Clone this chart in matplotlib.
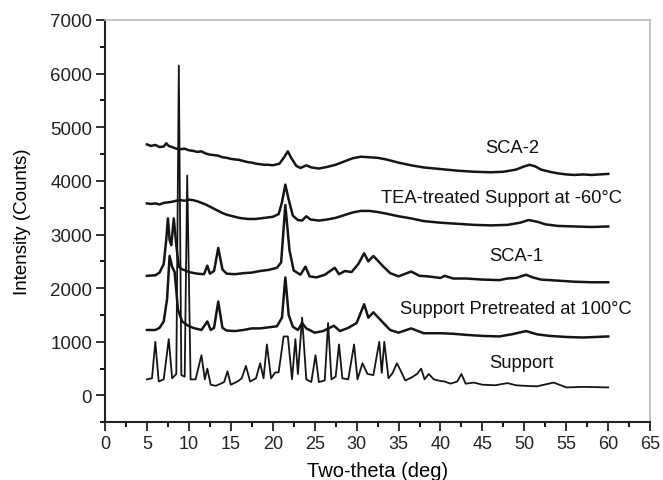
import matplotlib
matplotlib.use("Agg")
import matplotlib.pyplot as plt
from matplotlib.ticker import MultipleLocator

plt.rcParams['font.family'] = ['Liberation Sans', 'DejaVu Sans']

sca2_x = [5, 5.5, 6, 6.5, 7, 7.3, 7.6, 8, 8.5, 9, 9.5, 10, 10.5, 11, 11.5, 12, 12.5, 13, 13.5, 14, 14.5, 15, 15.5, 16, 16.5, 17, 17.5, 18, 18.5, 19, 19.5, 20, 20.8, 21.4, 21.8, 22.2, 22.8, 23.3, 24, 24.6, 25.5, 26.5, 27.5, 28.5, 29.5, 30.5, 31.5, 32.5, 33.5, 35, 36.5, 38, 40, 42, 44, 46, 47.5, 49, 50, 50.6, 51.3, 52, 53, 54, 55, 56, 57, 58, 59, 60]
sca2_y = [4680, 4650, 4670, 4630, 4640, 4700, 4650, 4630, 4600, 4590, 4600, 4570, 4560, 4540, 4550, 4510, 4490, 4480, 4470, 4440, 4430, 4410, 4400, 4390, 4370, 4350, 4340, 4320, 4310, 4300, 4300, 4290, 4320, 4450, 4550, 4430, 4280, 4240, 4290, 4250, 4230, 4260, 4300, 4360, 4420, 4450, 4440, 4430, 4400, 4340, 4290, 4250, 4220, 4190, 4170, 4160, 4170, 4210, 4270, 4300, 4270, 4210, 4170, 4140, 4120, 4110, 4120, 4110, 4120, 4130]

tea_x = [5, 5.5, 6, 6.5, 7, 7.5, 8, 8.5, 9, 9.5, 10, 10.5, 11, 11.5, 12, 12.5, 13, 13.5, 14, 14.5, 15, 16, 17, 18, 19, 20, 20.7, 21.1, 21.5, 21.9, 22.4, 23, 23.5, 24, 24.5, 25.5, 26.5, 27.5, 28.5, 29.5, 30.5, 31.5, 32.5, 33.5, 35, 36.5, 38, 40, 42, 44, 46, 48, 49.5, 50.5, 51.5, 52.5, 54, 56, 58, 60]
tea_y = [3580, 3570, 3580, 3560, 3590, 3600, 3610, 3630, 3640, 3630, 3650, 3640, 3620, 3590, 3560, 3520, 3480, 3440, 3400, 3370, 3350, 3310, 3290, 3290, 3310, 3330, 3380, 3600, 3930, 3650, 3350, 3270, 3260, 3340, 3280, 3260, 3280, 3310, 3360, 3410, 3440, 3440, 3420, 3390, 3340, 3300, 3250, 3220, 3200, 3180, 3170, 3180, 3220, 3270, 3240, 3190, 3160, 3150, 3140, 3150]

sca1_x = [5, 6, 6.5, 7, 7.3, 7.5, 7.7, 7.9, 8.2, 8.5, 8.8, 9.2, 9.6, 10, 11, 11.8, 12.2, 12.5, 13, 13.5, 14, 14.5, 15.5, 16.5, 17.5, 18.5, 19.5, 20.5, 21, 21.5, 22, 22.5, 23.3, 23.9, 24.4, 25.2, 26.2, 27.4, 27.9, 28.6, 29.4, 30.2, 30.9, 31.4, 32, 32.6, 33.2, 34, 35, 36.5, 37.5, 38.5, 40, 40.5, 41.5, 43, 45, 47, 48, 49, 50.2, 51, 52, 54, 56, 58, 60]
sca1_y = [2230, 2240, 2290, 2450, 2900, 3300, 2900, 2800, 3300, 2800, 2400, 2350, 2330, 2300, 2270, 2260, 2420, 2270, 2320, 2750, 2350, 2270, 2260, 2280, 2290, 2320, 2340, 2380, 2480, 3550, 2700, 2330, 2250, 2400, 2220, 2200, 2250, 2380, 2260, 2320, 2300, 2450, 2650, 2500, 2600, 2500, 2400, 2280, 2220, 2310, 2230, 2220, 2190, 2230, 2180, 2180, 2160, 2150, 2180, 2190, 2250, 2200, 2160, 2140, 2120, 2110, 2110]

pre_x = [5, 6, 6.5, 7, 7.4, 7.7, 8.0, 8.3, 8.7, 9.2, 9.8, 10.5, 11.5, 12.2, 12.6, 13, 13.5, 14, 14.5, 15.5, 16.5, 17.5, 18.5, 19.5, 20.5, 21.1, 21.5, 21.9, 22.4, 23, 23.5, 24, 25, 26, 27.3, 28, 29, 30, 30.9, 31.4, 32, 32.6, 33.2, 34, 35, 36.5, 38, 40, 41.5, 43, 45, 47, 48.5, 50.2, 51.5, 53, 55, 57, 60]
pre_y = [1220, 1220, 1260, 1380, 1800, 2600, 2400, 2300, 1600, 1380, 1310, 1260, 1220, 1380, 1220, 1260, 1750, 1260, 1210, 1200, 1220, 1250, 1250, 1270, 1290, 1450, 2200, 1500, 1280, 1220, 1350, 1250, 1170, 1200, 1300, 1200, 1260, 1350, 1700, 1450, 1550, 1450, 1350, 1220, 1170, 1250, 1160, 1160, 1150, 1130, 1110, 1100, 1140, 1200, 1140, 1110, 1090, 1080, 1100]

sup_x = [5, 5.6, 6.0, 6.4, 7.0, 7.6, 8.0, 8.5, 8.8, 9.1, 9.5, 9.8, 10.2, 10.8, 11.5, 11.9, 12.2, 12.6, 13.2, 13.8, 14.2, 14.6, 15.0, 15.8, 16.3, 16.8, 17.3, 18.0, 18.5, 18.9, 19.3, 19.8, 20.3, 20.7, 21.3, 21.8, 22.3, 22.7, 23.0, 23.5, 24.0, 24.6, 25.1, 25.5, 26.2, 26.6, 27.0, 27.5, 27.9, 28.3, 29.0, 29.7, 30.1, 30.7, 31.3, 32.0, 32.7, 33.0, 33.3, 33.8, 34.3, 34.8, 35.2, 35.8, 36.5, 37.2, 37.7, 38.1, 38.6, 39.2, 40.0, 40.5, 41.2, 42.0, 42.5, 43.0, 44.0, 45.0, 46.5, 48.0, 49.0, 50.0, 51.5, 53.5, 55.0, 57.0, 60.0]
sup_y = [300, 320, 1000, 260, 300, 1050, 320, 400, 6150, 380, 350, 4100, 300, 300, 750, 300, 500, 200, 180, 220, 250, 450, 200, 260, 320, 550, 260, 320, 600, 320, 950, 320, 430, 430, 1100, 1100, 300, 1050, 400, 1450, 300, 250, 750, 250, 280, 1350, 300, 350, 950, 320, 300, 950, 300, 600, 400, 380, 1000, 420, 1000, 320, 420, 600, 480, 280, 330, 400, 500, 300, 400, 300, 270, 260, 220, 260, 400, 220, 240, 200, 190, 230, 190, 180, 170, 240, 150, 160, 150]

tick_x = list(range(0, 70, 5))
tick_y = list(range(0, 8000, 1000))

labels = ["SCA-2", "TEA-treated Support at -60°C", "SCA-1", "Support Pretreated at 100°C", "Support"]
label_x = [48.5, 47.3, 49.0, 49.0, 49.6]
label_y = [4620, 3690, 2600, 1615, 615]

fig = plt.figure(figsize=(6.63, 4.81), dpi=100)
ax = fig.add_axes([0.1584, 0.12, 0.8222, 0.8365])

col = '#151515'
for xs, ys in [(sca2_x, sca2_y), (tea_x, tea_y), (sca1_x, sca1_y), (pre_x, pre_y)]:
    ax.plot(xs, ys, color=col, lw=1.8, solid_joinstyle='round')
ax.plot(sup_x, sup_y, color=col, lw=1.3, solid_joinstyle='round')

for t, tx, ty in zip(labels, label_x, label_y):
    ax.text(tx, ty, t, ha='center', va='center', fontsize=13.2, color='#111111')

ax.set_xlim(0, 65)
ax.set_ylim(-500, 7000)
ax.set_xticks(tick_x)
ax.set_yticks(tick_y)
ax.xaxis.set_minor_locator(MultipleLocator(2.5))
ax.yaxis.set_minor_locator(MultipleLocator(500))
ax.tick_params(axis='both', which='major', direction='out', length=6.3, width=1.3, labelsize=13, colors='#222222', pad=3)
ax.tick_params(axis='y', which='major', labelsize=13.5)
ax.tick_params(axis='both', which='minor', direction='out', length=3.3, width=1.3)

for s in ['left', 'bottom']:
    ax.spines[s].set_linewidth(1.5)
    ax.spines[s].set_color('#222222')
for s in ['top', 'right']:
    ax.spines[s].set_linewidth(1.2)
    ax.spines[s].set_color('#bbbbbb')

ax.set_xlabel("Two-theta (deg)", fontsize=14.5, labelpad=6)
ax.set_ylabel("Intensity (Counts)", fontsize=13.5, labelpad=14)

fig.savefig("out.png", dpi=100)
